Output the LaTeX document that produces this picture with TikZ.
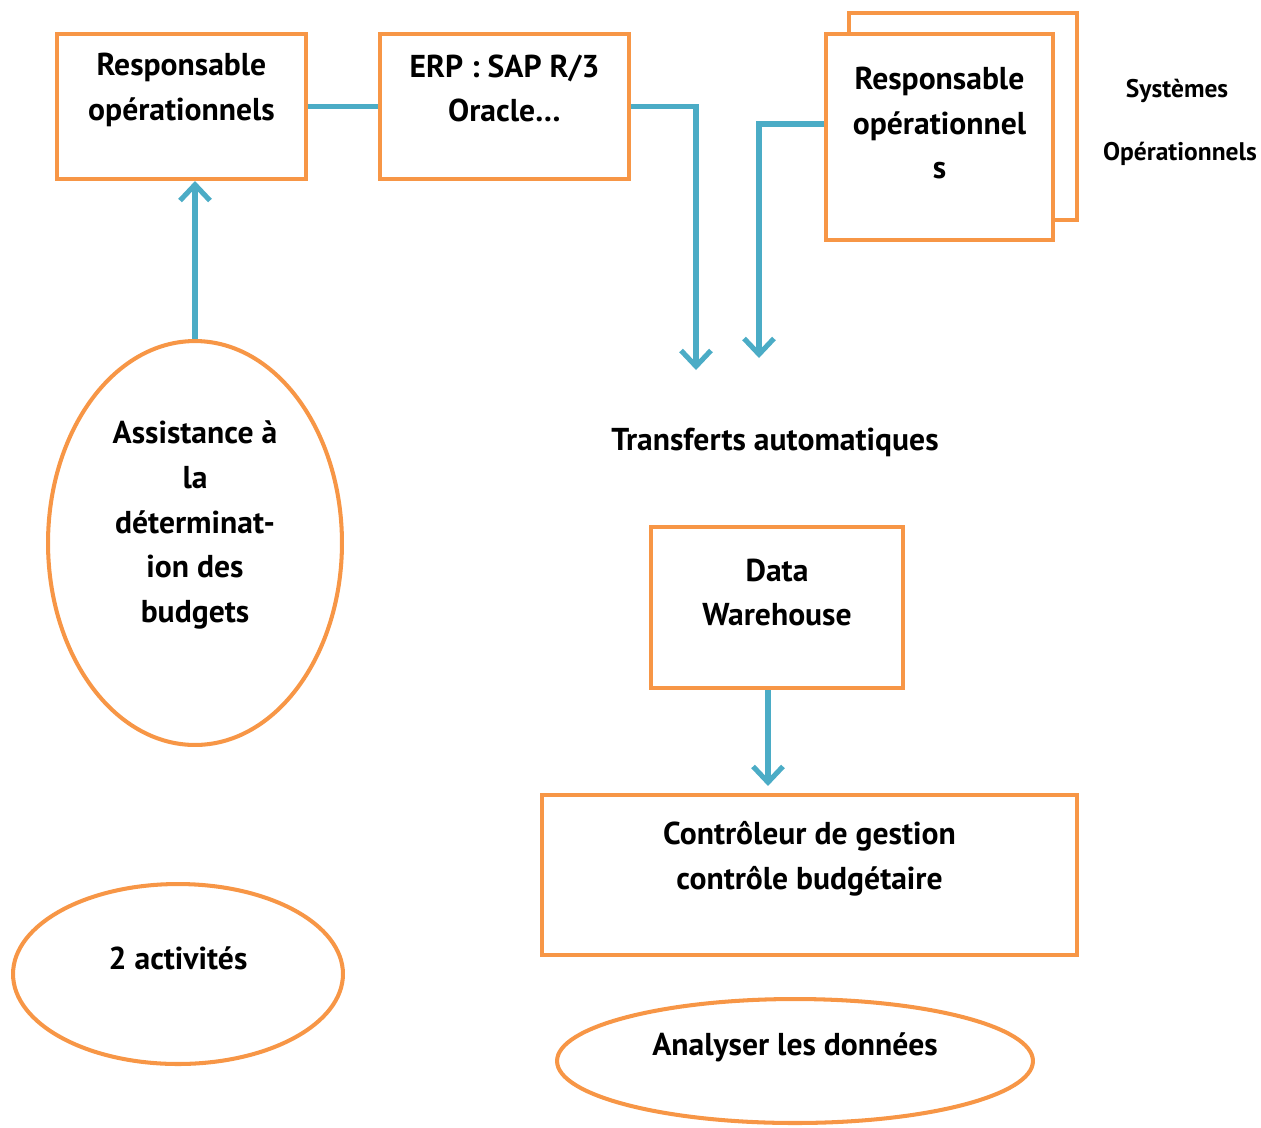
\documentclass[tikz,border=0pt]{standalone}
\usepackage{fontspec}
\setmainfont{PT Sans}
\usetikzlibrary{arrows.meta,shapes.geometric}
\definecolor{boxorange}{HTML}{F79646}
\definecolor{linkblue}{HTML}{4BACC6}

\begin{document}
\begin{tikzpicture}[x=0.02cm,y=-0.02cm,
    txt/.style={font=\bfseries\fontsize{18}{25.5}\selectfont,align=center,inner sep=0},
    small/.style={font=\bfseries\fontsize{14.5}{16}\selectfont,inner sep=0},
    box/.style={draw=boxorange,line width=2.3pt,fill=white,inner sep=0},
    oval/.style={ellipse,draw=boxorange,line width=2.3pt,inner sep=0},
    link/.style={draw=linkblue,line width=2.9pt},
    tip/.style={-{Straight Barb[length=9pt,width=17pt]}}]
        \useasboundingbox (0,0) rectangle (1261,1127);
        % top row
        \node[box,minimum width=4.98cm,minimum height=2.9cm,label={[txt,yshift=0.33cm]center:Responsable\\opérationnels}] (1) at (181.5,106.5) {};
        \node[box,minimum width=4.98cm,minimum height=2.9cm,label={[txt,yshift=0.36cm]center:ERP : SAP R/3\\Oracle…}] (2) at (504.5,106.5) {};
        \node[box,minimum width=4.56cm,minimum height=4.14cm] (3b) at (963,116.5) {};
        \node[box,minimum width=4.54cm,minimum height=4.12cm,label={[txt,yshift=0.28cm]center:Responsable\\opérationnel\\s}] (3) at (939.5,137) {};
        \node[small] (s1) at (1177,91) {Systèmes};
        \node[small] (s2) at (1180,154) {Opérationnels};
        % transfers
        \coordinate (t1) at (696,370);
        \coordinate (t2) at (759,358);
        \node[txt] (tr) at (775,442) {Transferts automatiques};
        \node[box,minimum width=5.04cm,minimum height=3.22cm,label={[txt,yshift=0.3cm]center:Data\\Warehouse}] (dw) at (777,607.5) {};
        \node[box,minimum width=10.7cm,minimum height=3.2cm,label={[txt,yshift=0.32cm]center:Contrôleur de gestion\\contrôle budgétaire}] (cg) at (809.5,875) {};
        % ellipses
        \node[oval,minimum width=5.88cm,minimum height=8.08cm,label={[txt,yshift=0.36cm]center:Assistance à\\la\\déterminat-\\ion des\\budgets}] (a) at (195,543) {};
        \node[oval,minimum width=6.6cm,minimum height=3.6cm,label={[txt,yshift=0.32cm]center:2 activités}] (b) at (178,974) {};
        \node[oval,minimum width=9.52cm,minimum height=2.48cm,label={[txt,yshift=0.28cm]center:Analyser les données}] (c) at (795,1061) {};
        % links
        \draw[link] (1.east) -- (2.west);
        \draw[link,tip] (2.east) -| (t1);
        \draw[link,tip] ([yshift=0.26cm]3.west) -| (t2);
        \draw[link,tip] (a.north) -- (a.north |- 1.south);
        \draw[link,tip,shorten >=4pt] ([xshift=-0.18cm]dw.south) -- ([xshift=-0.18cm]dw.south |- cg.north);
      \end{tikzpicture}
\end{document}
